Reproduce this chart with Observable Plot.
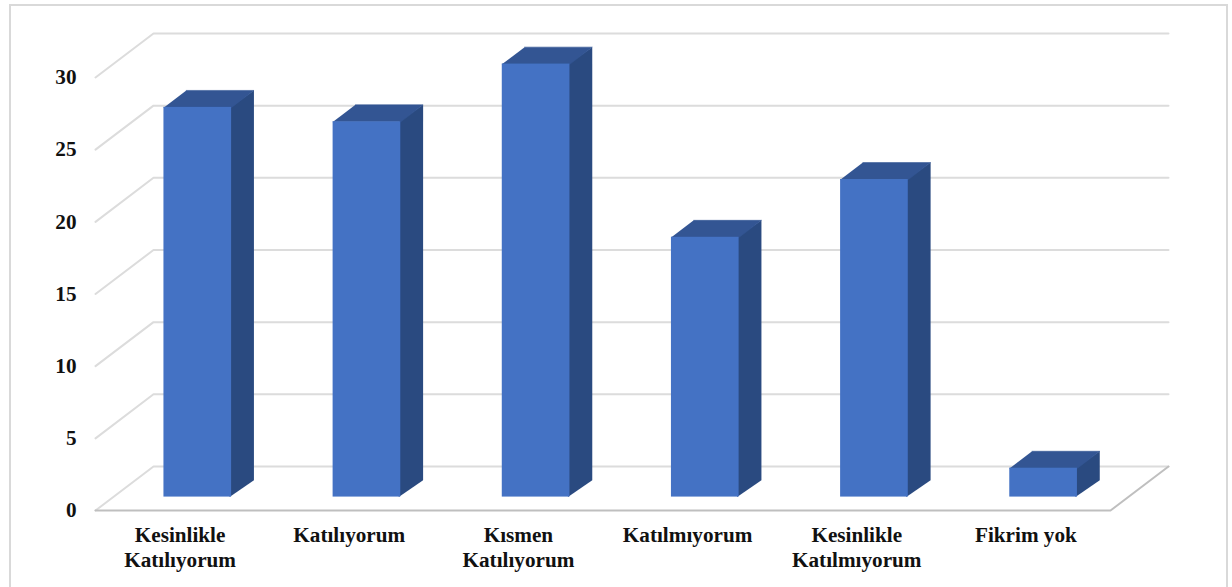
<!DOCTYPE html>
<html>
<head>
<meta charset="utf-8">
<script src="https://cdn.jsdelivr.net/npm/d3@7"></script>
<script src="https://cdn.jsdelivr.net/npm/@observablehq/plot@0.6"></script>
<style>
html,body{margin:0;padding:0;background:#fff;overflow:hidden;width:1232px;height:587px}
#frame{position:absolute;left:9px;top:4px;width:1215px;height:620px;border:2px solid #d9d9d9;box-sizing:content-box}
#chart{position:absolute;left:0;top:0}
svg{background:transparent!important;display:block}
</style>
</head>
<body>
<div id="frame"></div>
<div id="chart"></div>
<script>
const categories = ["Kesinlikle\nKatılıyorum", "Katılıyorum", "Kısmen\nKatılıyorum", "Katılmıyorum", "Kesinlikle\nKatılmıyorum", "Fikrim yok"];
const values = [27, 26, 30, 18, 22, 2];
const yTicks = [0, 5, 10, 15, 20, 25, 30];

// Oblique 3D projection, in data units: full depth moves x and y by these amounts
const depthX = 58 / 169.17;
const depthY = 44 / 14.43;
const barFront = 0.305, barBack = 0.69, barHalf = 0.2;
const proj = (c, v, d) => ({x: c + d * depthX, y: v + d * depthY});

const n = categories.length;
const wallLines = yTicks.flatMap(v => [
  {k: v, ...proj(0, v, 0)}, {k: v, ...proj(0, v, 1)}, {k: v, ...proj(n, v, 1)}
]);
const floorEdge = [proj(0, 0, 0), proj(n, 0, 0), proj(n, 0, 1)];

const bars = values.map((v, i) => ({i, v, c: i + 0.5}));
// Side and top faces tuck slightly under the front face so no seam shows
const tuck = 0.012;
const sideFaces = bars.flatMap(b => [
  {...proj(b.c + barHalf, 0, barFront), x: proj(b.c + barHalf, 0, barFront).x - tuck},
  {...proj(b.c + barHalf, b.v, barFront), x: proj(b.c + barHalf, b.v, barFront).x - tuck},
  proj(b.c + barHalf, b.v, barBack), proj(b.c + barHalf, 0, barBack)
].map(p => ({...p, k: b.i})));
const topFaces = bars.flatMap(b => [
  proj(b.c - barHalf, b.v, barFront), proj(b.c + barHalf, b.v, barFront),
  proj(b.c + barHalf, b.v, barBack), proj(b.c - barHalf, b.v, barBack)
].map(p => ({...p, k: b.i})));
const labels = categories.map((t, i) => ({t, c: i + 0.5}));

const plot = Plot.plot({
  width: 1232, height: 587,
  marginLeft: 95, marginRight: 122, marginTop: 77, marginBottom: 77,
  x: {domain: [0, n], axis: null},
  y: {domain: [0, 30]},
  style: {background: "transparent"},
  marks: [
    Plot.line(wallLines, {x: "x", y: "y", z: "k", stroke: "#dcdcdc", strokeWidth: 2, curve: "linear"}),
    Plot.line(floorEdge, {x: "x", y: "y", stroke: "#bfbfbf", strokeWidth: 2, curve: "linear"}),
    Plot.line(sideFaces, {x: "x", y: "y", z: "k", fill: "#2a4a80", stroke: "none", curve: "linear"}),
    Plot.line(topFaces, {x: "x", y: "y", z: "k", fill: "#335593", stroke: "#335593", strokeWidth: 0.6, curve: "linear"}),
    Plot.rect(bars, {
      x1: b => proj(b.c - barHalf, 0, barFront).x,
      x2: b => proj(b.c + barHalf, 0, barFront).x,
      y1: b => proj(0, 0, barFront).y,
      y2: b => proj(0, b.v, barFront).y,
      fill: "#4472c4"
    }),
    Plot.axisY({
      ticks: yTicks, tickSize: 0, tickPadding: 19, label: null,
      fontFamily: "Liberation Serif", fontSize: 21.2, fontWeight: "bold", fill: "#111"
    }),
    Plot.text(labels, {
      x: "c", y: () => 0, text: "t", dy: 14.5, lineAnchor: "top", lineHeight: 1.15,
      fontFamily: "Liberation Serif", fontSize: 21.2, fontWeight: "bold", fill: "#111"
    })
  ]
});
document.getElementById("chart").appendChild(plot);
</script>
</body>
</html>
